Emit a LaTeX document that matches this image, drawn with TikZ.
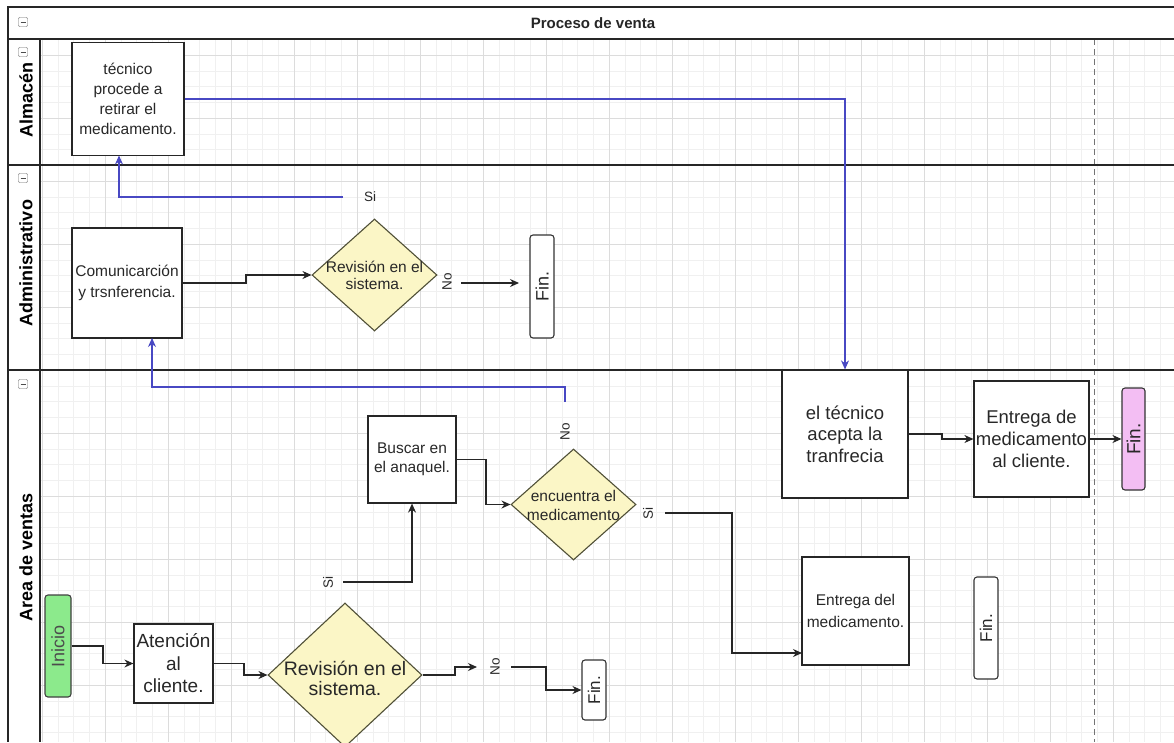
\documentclass[tikz,border=0pt]{standalone}
\usepackage{fontspec}
\setmainfont{Liberation Sans}
\usetikzlibrary{shapes.geometric,arrows.meta}
\definecolor{diafill}{RGB}{251,246,198}
\definecolor{diadraw}{RGB}{80,80,55}
\definecolor{inifill}{RGB}{140,234,140}
\definecolor{finpink}{RGB}{243,190,243}
\definecolor{bluearr}{RGB}{72,72,195}
\definecolor{txt}{RGB}{40,40,40}
\definecolor{gridmaj}{RGB}{220,220,220}
\definecolor{gridmin}{RGB}{240,240,240}
\tikzset{
  frame/.style={line width=1.3pt, draw=black!85},
  box/.style={draw=black!85, line width=1.2pt, fill=white, align=center, inner sep=0pt, text=txt},
  finbox/.style={draw=black!80, line width=1.1pt, rounded corners=3pt, fill=white, inner sep=0pt},
  dia/.style={diamond, draw=diadraw, line width=1.1pt, fill=diafill, inner sep=0pt},
  dtext/.style={align=center, inner sep=0pt, text=txt},
  lane/.style={rotate=90, font=\fontsize{18}{20}\selectfont\bfseries, inner sep=0pt},
  lbl/.style={font=\fontsize{13.5}{15}\selectfont, text=txt, inner sep=0pt},
  arr/.style={draw=black!85, line width=1.1pt, -{Stealth[length=9pt,width=8pt]}},
  barr/.style={draw=bluearr, line width=1.1pt, -{Stealth[length=9pt,width=8pt]}},
  icon/.style={draw=black!60, fill=white, rounded corners=1pt, minimum width=9pt, minimum height=9pt, inner sep=0pt},
  fa/.style={font=\fontsize{15.5}{20}\selectfont},
  fb/.style={font=\fontsize{18.5}{21.5}\selectfont},
}
\begin{document}
\begin{tikzpicture}[x=1pt,y=-1pt]
\useasboundingbox (0,0) rectangle (1174,742);
\fill[white] (0,0) rectangle (1174,742);
% grid
\begin{scope}
\clip (40,39) rectangle (1174,742);
\foreach \i in {0,...,72} \draw[gridmin, line width=0.5pt] ({42+15.75*\i},39) -- ({42+15.75*\i},742);
\foreach \i in {-1,...,44} \draw[gridmin, line width=0.5pt] (40,{55+15.75*\i}) -- (1174,{55+15.75*\i});
\foreach \i in {0,...,18} \draw[gridmaj, line width=0.7pt] ({42+63*\i},39) -- ({42+63*\i},742);
\foreach \i in {-1,...,11} \draw[gridmaj, line width=0.7pt] (40,{55+63*\i}) -- (1174,{55+63*\i});
\end{scope}
\draw[black!55, dashed, dash pattern=on 6pt off 4pt, line width=0.8pt] (1094,39) -- (1094,742);
% frame and lanes
\draw[frame] (1174,7) -- (8,7) -- (8,742);
\draw[frame] (8,39) -- (1174,39);
\draw[frame] (40,39) -- (40,742);
\draw[frame] (8,165) -- (1174,165);
\draw[frame] (8,370) -- (1174,370);
\node[font=\fontsize{15}{17}\selectfont\bfseries, text=black!85] (title) at (593,23) {Proceso de venta};
\foreach \n/\y in {i0/22,i1/52,i2/178,i3/384} {
  \node[icon] (\n) at (23,\y) {};
  \draw[black!70, line width=0.8pt] ([xshift=-2.5pt]\n.center) -- ([xshift=2.5pt]\n.center);
}
\node[lane] (lalm) at (26,100) {Almacén};
\node[lane] (ladm) at (26,263) {Administrativo};
\node[lane] (lven) at (26,557) {Area de ventas};

% nodes
\node[box, fa, minimum width=112pt, minimum height=113pt] (alm) at (128,99) {técnico\\procede a\\retirar el\\medicamento.};
\node[box, fa, minimum width=110pt, minimum height=110pt, font=\fontsize{15.5}{21.5}\selectfont] (com) at (127,283) {Comunicarción\\y trsnferencia.};
\node[dia, minimum width=125pt, minimum height=112pt] (dA) at (374.5,275) {};
\node[dtext, font=\fontsize{15.5}{17}\selectfont] (dAt) at (374.5,275) {Revisión en el\\sistema.};
\node[finbox, minimum width=24pt, minimum height=103pt] (finA) at (542,286.5) {};
\node[rotate=90, font=\fontsize{18}{20}\selectfont, text=txt, inner sep=0pt] (finAt) at (542,286.5) {Fin.};

\node[finbox, fill=inifill, draw=black!75, minimum width=26pt, minimum height=102pt] (ini) at (58,646) {};
\node[rotate=90, font=\fontsize{18}{20}\selectfont, text=black!70, inner sep=0pt] (init) at (58,646) {Inicio};
\node[box, minimum width=79pt, minimum height=79pt, font=\fontsize{19}{22.5}\selectfont] (aten) at (173.5,663.5) {Atención\\al\\cliente.};
\node[dia, minimum width=154pt, minimum height=144pt] (dV) at (345,675) {};
\node[dtext, font=\fontsize{19.5}{20}\selectfont] (dVt) at (345,678) {Revisión en el\\sistema.};
\node[finbox, minimum width=24pt, minimum height=60pt] (finV) at (594,690) {};
\node[rotate=90, font=\fontsize{17}{20}\selectfont, text=txt, inner sep=0pt] (finVt) at (594,690) {Fin.};

\node[box, minimum width=88pt, minimum height=87pt, font=\fontsize{15.5}{18.5}\selectfont] (bus) at (412,459.5) {Buscar en\\el anaquel.};
\node[dia, minimum width=125pt, minimum height=111pt] (dE) at (573.5,504.5) {};
\node[dtext, font=\fontsize{15.5}{19}\selectfont] (dEt) at (573.5,505.5) {encuentra el\\medicamento};
\node[box, minimum width=107pt, minimum height=108pt, font=\fontsize{15.5}{22}\selectfont] (ent) at (855.5,611) {Entrega del\\medicamento.};
\node[finbox, minimum width=24pt, minimum height=102pt] (finR) at (986,628) {};
\node[rotate=90, font=\fontsize{17}{20}\selectfont, text=txt, inner sep=0pt] (finRt) at (986,628) {Fin.};

\node[box, fb, minimum width=126pt, minimum height=128pt] (tec) at (845,434) {el técnico\\acepta la\\tranfrecia};
\node[box, fb, minimum width=115pt, minimum height=116pt, font=\fontsize{18.5}{22}\selectfont] (ent2) at (1031.5,439) {Entrega de\\medicamento\\al cliente.};
\node[finbox, fill=finpink, minimum width=23pt, minimum height=102pt] (finP) at (1133.5,439) {};
\node[rotate=90, font=\fontsize{19}{20}\selectfont, text=txt, inner sep=0pt] (finPt) at (1133.5,439) {Fin.};

% edge labels
\node[lbl] (siA) at (370,197) {Si};
\node[lbl, rotate=90] (noA) at (447,282) {No};
\node[lbl, rotate=90] (siV) at (328,582) {Si};
\node[lbl, rotate=90] (noE) at (565,432) {No};
\node[lbl, rotate=90] (noV) at (495,667) {No};
\node[lbl, rotate=90] (siE) at (648,513) {Si};

% coordinates
\coordinate (cSiA) at (343,197);
\coordinate (cAlmIn) at (119,155.5);
\coordinate (cNoA1) at (461,283);
\coordinate (cNoA2) at (519,283);
\coordinate (cNoE) at (565,402);
\coordinate (cComIn) at (152,338);
\coordinate (cNoV1) at (477,667);
\coordinate (cNoV2) at (511,667);
\coordinate (cSiV) at (343,582);
\coordinate (cSiE) at (665,513);
\coordinate (cEntIn) at (802,653);

% connectors
\draw[barr] (alm.east) -| (tec.north);
\draw[barr] (cSiA) -| (cAlmIn);
\draw[barr] (cNoE) -- (565,387) -| (cComIn);
\draw[arr] (com.east) -- (246,283) |- (dA.west);
\draw[arr] (cNoA1) -- (cNoA2);
\draw[arr] (ini.east) -- (103,646) |- (aten.west);
\draw[arr] (aten.east) -- (244,663.5) |- (dV.west);
\draw[arr] (dV.east) -- (455,675) |- (cNoV1);
\draw[arr] (cNoV2) -- (546,667) |- (finV.west);
\draw[arr] (cSiV) -| (bus.south);
\draw[arr] (bus.east) -- (486,459.5) |- (dE.west);
\draw[arr] (cSiE) -- (732,513) |- (cEntIn);
\draw[arr] (tec.east) -- (942,434) |- (ent2.west);
\draw[arr] (ent2.east) -- (finP.west);
\end{tikzpicture}
\end{document}
